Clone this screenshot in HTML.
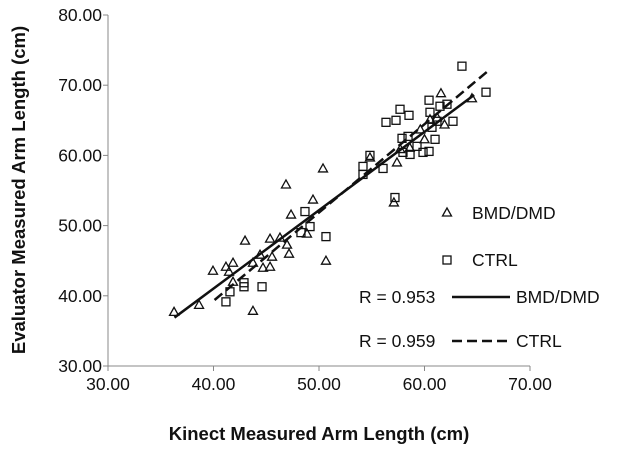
<!DOCTYPE html>
<html><head><meta charset="utf-8"><style>
html,body{margin:0;padding:0;background:#fff;width:624px;height:452px;overflow:hidden}
svg text{font-family:"Liberation Sans",sans-serif;fill:#111}
</style></head><body>
<svg id="chart" width="624" height="452" viewBox="0 0 624 452" xmlns="http://www.w3.org/2000/svg">
<text transform="translate(25,190) rotate(-90)" text-anchor="middle" font-size="18.5" font-weight="bold">Evaluator Measured Arm Length (cm)</text>
<text x="319" y="440" text-anchor="middle" font-size="18.5" font-weight="bold">Kinect Measured Arm Length (cm)</text>
<g id="axes"></g><g id="marks"></g>
<g>
<path d="M447,208 L451.5,216 L442.5,216 Z" fill="none" stroke="#111" stroke-width="1.3"/>
<text x="472" y="219" font-size="17.5">BMD/DMD</text>
<rect x="443" y="256" width="8" height="8" fill="none" stroke="#111" stroke-width="1.3"/>
<text x="472" y="266" font-size="17.5">CTRL</text>
<text x="359" y="303" font-size="17.5">R = 0.953</text>
<line x1="452" y1="297" x2="510" y2="297" stroke="#111" stroke-width="2.5"/>
<text x="516" y="303" font-size="17.5">BMD/DMD</text>
<text x="359" y="347" font-size="17.5">R = 0.959</text>
<line x1="452" y1="341" x2="510" y2="341" stroke="#111" stroke-width="2.5" stroke-dasharray="10,5"/>
<text x="516" y="347" font-size="17.5">CTRL</text>
</g>
</svg>
<script>
const xTicks=[30,40,50,60,70];
const yTicks=[30,40,50,60,70,80];
const triX=[36.26,38.63,39.95,41.18,41.85,41.47,41.85,42.99,43.74,43.74,45.36,46.30,46.97,47.16,46.87,47.35,49.43,50.38,50.66,48.86,45.55,45.36,44.69,44.41,57.39,54.83,61.56,64.50,60.52,61.2,61.9,59.6,60.0,58.6,57.7,57.1];
const triY=[37.71,38.71,43.57,44.14,44.71,43.43,42.00,47.86,44.71,37.86,48.14,48.29,47.29,46.00,55.86,51.57,53.71,58.14,45.00,48.86,45.57,44.14,44.00,45.86,59.00,59.71,68.86,68.14,65.14,65.4,64.4,63.7,62.3,61.1,60.9,53.3];
const sqX=[63.55,65.83,60.43,57.68,58.53,57.30,56.35,62.70,61.0,57.87,58.44,59.29,58.63,57.96,59.86,60.43,56.07,54.17,54.17,54.83,57.20,61.47,62.13,60.52,61.18,60.71,48.67,49.15,48.29,50.66,44.60,42.89,42.89,41.56,41.18];
const sqY=[72.71,69.0,67.86,66.57,65.71,65.0,64.71,64.86,62.29,62.43,62.71,61.29,60.14,60.43,60.43,60.57,58.14,58.43,57.29,60.0,54.0,67.0,67.29,66.14,64.86,64.0,52.0,49.86,49.0,48.43,41.29,41.29,41.86,40.57,39.14];
const fitBX=[36.3,64.7], fitBY=[36.9,68.6];
const fitCX=[40.1,66.0], fitCY=[39.4,72.0];
const NS="http://www.w3.org/2000/svg";
const X0=108,X1=530,Y0=366,Y1=15;
function sx(v){return X0+(v-30)/(70-30)*(X1-X0);}
function sy(v){return Y0-(v-30)/(80-30)*(Y0-Y1);}
function mk(t,a,p){const e=document.createElementNS(NS,t);for(const k in a)e.setAttribute(k,a[k]);p.appendChild(e);return e;}
const axes=document.getElementById('axes'), marks=document.getElementById('marks');
let yl=mk('line',{x1:X0,y1:Y1,x2:X0,y2:Y0,stroke:'#888','stroke-width':1},axes);


let xl=mk('line',{x1:X0,y1:Y0,x2:X1,y2:Y0,stroke:'#888','stroke-width':1},axes);


yTicks.forEach(v=>{
 const y=sy(v);
 const t=mk('line',{x1:X0-5,y1:y,x2:X0,y2:y,stroke:'#888'},axes);
 
 
 const l=mk('text',{x:X0-6,y:y+6,'text-anchor':'end','font-size':'17.5'},axes);
 l.textContent=v.toFixed(2);
 
 
});
xTicks.forEach(v=>{
 const x=sx(v);
 const t=mk('line',{x1:x,y1:Y0,x2:x,y2:Y0+5,stroke:'#888'},axes);
 
 
 const l=mk('text',{x:x,y:Y0+24,'text-anchor':'middle','font-size':'17.5'},axes);
 l.textContent=v.toFixed(2);
 
 
});
triX.forEach((v,i)=>{
 const x=sx(v),y=sy(triY[i]);
 const p=mk('path',{d:`M${x},${y-4.5}L${x+4.5},${y+3.5}L${x-4.5},${y+3.5}Z`,fill:'none',stroke:'#111','stroke-width':1.3},marks);
 
 
});
sqX.forEach((v,i)=>{
 const x=sx(v),y=sy(sqY[i]);
 const r=mk('rect',{x:x-4,y:y-4,width:8,height:8,fill:'none',stroke:'#111','stroke-width':1.3},marks);
 
 
});
const lb=mk('line',{x1:sx(fitBX[0]),y1:sy(fitBY[0]),x2:sx(fitBX[1]),y2:sy(fitBY[1]),stroke:'#111','stroke-width':2.5},marks);


const lc=mk('line',{x1:sx(fitCX[0]),y1:sy(fitCY[0]),x2:sx(fitCX[1]),y2:sy(fitCY[1]),stroke:'#111','stroke-width':2.5,'stroke-dasharray':'10,5'},marks);


</script>
</body></html>
